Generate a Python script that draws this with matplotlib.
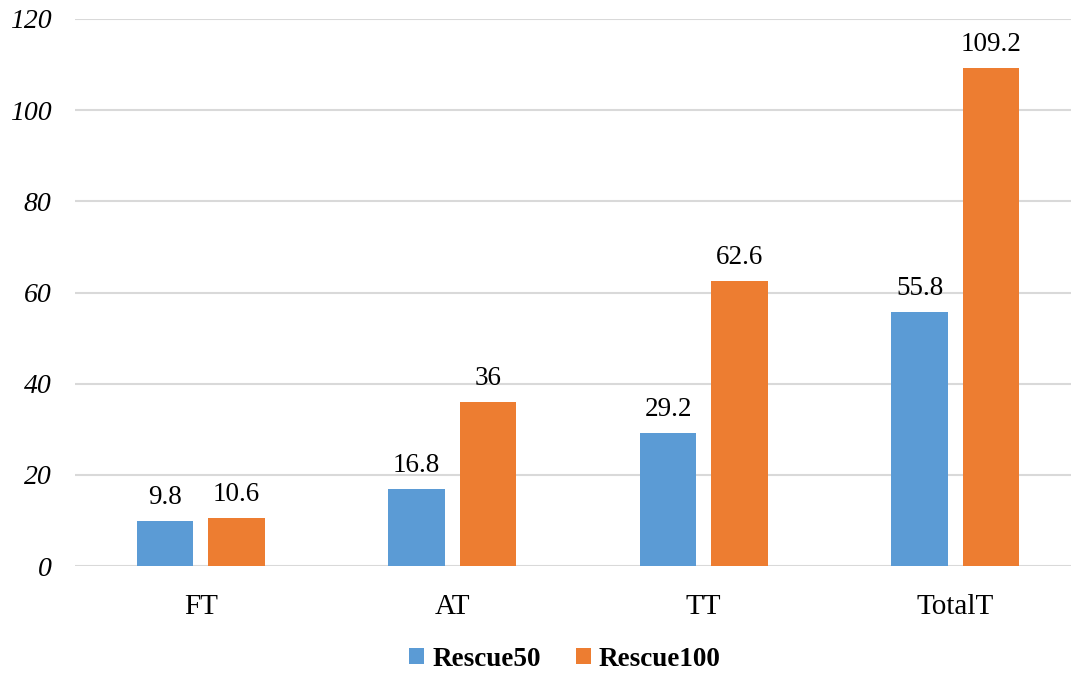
import matplotlib
matplotlib.use("Agg")
import matplotlib.pyplot as plt
import numpy as np

categories = ["FT", "AT", "TT", "TotalT"]
rescue50 = [9.8, 16.8, 29.2, 55.8]
rescue100 = [10.6, 36, 62.6, 109.2]
series_names = ["Rescue50", "Rescue100"]
yticks = [0, 20, 40, 60, 80, 100, 120]

blue = "#5B9BD5"
orange = "#ED7D31"
serif = ["Liberation Serif", "DejaVu Serif"]

W, H = 1071, 673
fig = plt.figure(figsize=(W / 100, H / 100), dpi=100)
left, right = 75, 1071
bottom, top = 566, 19
ax = fig.add_axes([left / W, (H - bottom) / H, (right - left) / W, (bottom - top) / H])

x = np.arange(len(categories))
width = 0.225
offset = 0.142
b1 = ax.bar(x - offset, rescue50, width, color=blue, label=series_names[0], zorder=3)
b2 = ax.bar(x + offset, rescue100, width, color=orange, label=series_names[1], zorder=3)

for bars, vals in ((b1, rescue50), (b2, rescue100)):
    for rect, v in zip(bars, vals):
        ax.annotate(f"{v:g}", (rect.get_x() + rect.get_width() / 2, v),
                    xytext=(0, 8), textcoords="offset points",
                    ha="center", va="bottom", fontsize=19.5, family=serif)

ax.set_xlim(-0.5, -0.5 + (right - left) / 251.5)
ax.set_ylim(0, 120)
ax.set_yticks(yticks)
ax.set_yticklabels([str(t) for t in yticks], fontsize=20, family=serif,
                   style="italic")
ax.set_xticks(x)
ax.set_xticklabels(categories, fontsize=21, family=serif)
ax.tick_params(axis="both", length=0)
ax.tick_params(axis="y", pad=17)
ax.tick_params(axis="x", pad=20)
ax.yaxis.grid(True, color="#D9D9D9", linewidth=1.5, zorder=0)
for s in ax.spines.values():
    s.set_visible(False)

fig.legend(handles=[b1, b2], labels=series_names, loc="center",
           bbox_to_anchor=(565 / W, 1 - 659 / H), ncol=2, frameon=False,
           prop={"family": serif, "size": 19.5, "weight": "bold"},
           handlelength=0.55, handleheight=0.55, handletextpad=0.3,
           columnspacing=1.3)

fig.savefig("out.png", dpi=100)
